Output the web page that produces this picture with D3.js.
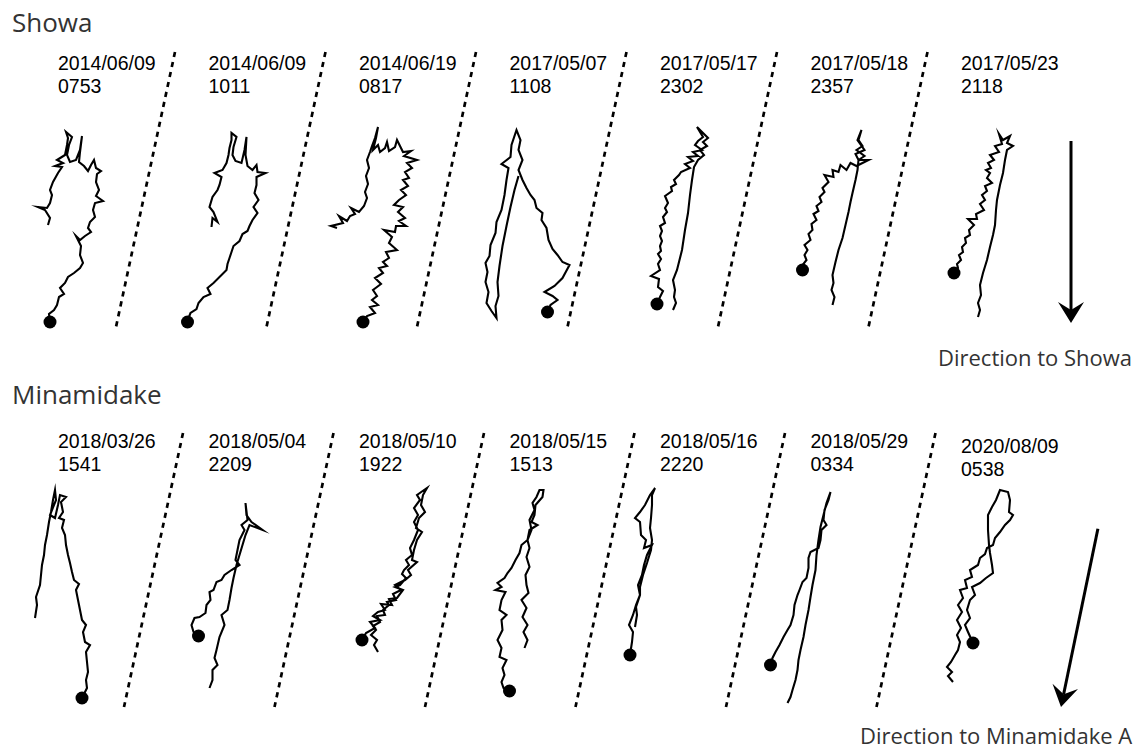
<!DOCTYPE html>
<html>
<head>
<meta charset="utf-8">
<script src="https://cdn.jsdelivr.net/npm/d3@7"></script>
<style>
  html, body { margin: 0; padding: 0; background: #fff; }
  svg { display: block; }
</style>
</head>
<body>
<script>
// ---- Event labels ----
const showaDates = ["2014/06/09", "2014/06/09", "2014/06/19", "2017/05/07", "2017/05/17", "2017/05/18", "2017/05/23"];
const showaTimes = ["0753", "1011", "0817", "1108", "2302", "2357", "2118"];
const minamiDates = ["2018/03/26", "2018/05/04", "2018/05/10", "2018/05/15", "2018/05/16", "2018/05/29", "2020/08/09"];
const minamiTimes = ["1541", "2209", "1922", "1513", "2220", "0334", "0538"];

// Which end of each particle-motion trace carries the filled circle
const showaMarker = ["end", "end", "end", "start", "end", "end", "end"];
const minamiMarker = ["end", "end", "start", "end", "end", "end", "end"];

// Azimuth (degrees clockwise from north) of each source direction
const showaAzimuth = 180;
const minamiAzimuth = 191.7;

// ---- Particle motion traces (horizontal, vertical displacement in plot units) ----
const showa1 = [[-10,225],[-8,218],[-13,210],[-20,207],[-11,208],[-8,203],[-6,195],[-8,190],[-5,182],[0,173],[4,167],[-3,166],[5,163],[-1,160],[7,155],[9,145],[10,138],[8,132],[14,137],[11,145],[9,155],[12,162],[18,160],[22,150],[24,136],[22,152],[21,162],[26,166],[30,171],[33,165],[36,160],[38,168],[43,171],[39,174],[38,182],[41,190],[38,196],[45,201],[37,203],[35,210],[37,217],[32,222],[30,228],[33,232],[27,236],[22,240],[18,236],[23,246],[22,255],[25,263],[22,268],[16,273],[10,277],[7,283],[2,288],[6,294],[1,297],[-1,305],[-4,310],[-9,314],[-8,322]];
const showa2 = [[3,227],[4,218],[9,222],[5,212],[1,207],[4,197],[9,190],[11,185],[13,177],[6,173],[14,170],[18,163],[20,155],[21,148],[23,140],[23,133],[28,137],[25,147],[24,155],[27,161],[33,163],[36,150],[38,137],[37,155],[39,166],[44,170],[48,165],[49,172],[57,173],[48,177],[48,185],[46,193],[50,200],[45,207],[49,213],[44,220],[41,226],[39,231],[34,234],[31,241],[25,246],[23,252],[21,258],[19,264],[18,270],[12,276],[5,283],[-1,288],[2,294],[-5,297],[-10,303],[-12,309],[-18,313],[-20,318],[-21,322]];
const showa3 = [[-22,228],[-28,226],[-16,223],[-20,216],[-12,221],[-9,216],[-4,214],[-8,208],[0,212],[5,206],[8,198],[6,192],[9,184],[7,176],[10,168],[8,160],[11,152],[13,146],[16,138],[19,127],[17,138],[14,150],[19,145],[21,152],[26,148],[28,142],[30,151],[36,147],[38,140],[41,146],[44,152],[52,151],[45,156],[58,160],[48,163],[53,168],[46,172],[50,178],[44,180],[49,186],[42,190],[47,195],[40,200],[35,205],[44,207],[39,212],[46,218],[40,221],[47,226],[37,226],[36,232],[25,230],[33,237],[30,243],[38,250],[27,252],[30,258],[24,262],[28,266],[20,268],[24,273],[16,278],[22,284],[14,290],[18,296],[13,300],[19,305],[11,307],[16,313],[8,316],[4,322]];
const showa4 = [[38,312],[41,305],[48,300],[43,296],[35,292],[45,286],[53,278],[60,265],[53,262],[48,255],[43,249],[39,240],[37,228],[32,220],[33,213],[27,208],[25,200],[21,195],[17,188],[13,180],[9,170],[13,160],[9,150],[11,140],[7,130],[2,145],[1,157],[-8,164],[-1,168],[-3,180],[-5,195],[-8,210],[-13,222],[-14,233],[-19,245],[-20,256],[-24,263],[-22,272],[-24,282],[-21,292],[-23,303],[-18,311],[-13,318],[-14,306],[-11,296],[-12,282],[-10,266],[-7,246],[-3,226],[1,207],[5,190],[9,176]];
const showa5 = [[13,310],[16,303],[14,297],[15,290],[13,280],[17,270],[22,250],[25,230],[28,213],[30,195],[32,180],[34,167],[38,160],[44,155],[40,150],[47,146],[43,142],[48,138],[37,127],[43,137],[38,141],[35,145],[42,150],[33,152],[38,156],[28,157],[33,161],[25,164],[30,168],[21,172],[19,175],[14,180],[16,184],[11,187],[12,191],[5,196],[8,203],[5,208],[7,212],[3,217],[5,223],[0,226],[2,231],[0,236],[2,241],[0,246],[1,251],[-2,254],[1,259],[-2,264],[0,270],[-9,276],[-1,279],[-2,287],[3,291],[0,297],[-3,304]];
const showa6 = [[22,305],[24,297],[21,290],[23,283],[22,275],[25,262],[28,250],[32,238],[35,225],[38,212],[40,202],[42,193],[45,180],[47,170],[48,160],[54,156],[46,150],[52,146],[48,140],[51,130],[47,140],[54,150],[45,154],[48,160],[58,160],[46,166],[40,163],[36,170],[30,165],[28,172],[22,170],[23,177],[14,175],[18,182],[12,188],[14,192],[9,197],[11,202],[6,206],[8,211],[3,214],[6,220],[1,224],[2,230],[-2,234],[0,240],[-6,245],[-3,250],[-6,255],[-4,260],[-8,265],[-8,270]];
const showa7 = [[17,317],[19,310],[17,303],[20,295],[19,285],[22,273],[26,260],[29,247],[32,235],[34,225],[35,210],[36,200],[39,185],[42,173],[44,160],[46,150],[52,146],[46,143],[49,136],[42,140],[38,134],[41,144],[34,146],[38,152],[29,155],[33,160],[27,163],[30,168],[25,170],[29,173],[26,178],[31,183],[24,186],[26,191],[21,195],[24,200],[19,204],[23,210],[15,214],[16,219],[7,219],[13,225],[8,230],[9,235],[4,238],[5,243],[1,247],[2,252],[-2,255],[0,260],[-4,264],[-3,268],[-7,273]];

const minami1 = [[-23,238],[-21,225],[-22,217],[-18,205],[-17,195],[-16,185],[-14,175],[-13,165],[-11,155],[-9,142],[-7,132],[-5,120],[-3,110],[-2,120],[-8,135],[-3,138],[0,125],[2,115],[8,117],[3,122],[5,132],[1,138],[6,140],[4,148],[7,155],[8,165],[10,175],[12,183],[14,192],[16,200],[21,204],[18,210],[20,220],[22,230],[24,240],[28,245],[25,252],[27,262],[32,265],[28,272],[29,282],[30,292],[28,300],[29,308],[26,314],[24,318]];
const minami2 = [[1,308],[4,300],[4,290],[9,285],[6,278],[8,270],[11,257],[16,245],[13,235],[19,230],[21,220],[23,208],[25,198],[28,185],[31,175],[34,165],[37,155],[41,145],[54,150],[43,142],[38,135],[37,123],[39,140],[33,145],[36,150],[31,160],[29,170],[27,180],[31,185],[23,190],[16,195],[13,200],[8,202],[5,210],[1,212],[2,220],[-2,225],[-3,233],[-9,237],[-14,238],[-17,245],[-15,252],[-10,256]];
const minami3 = [[3,260],[7,253],[16,248],[11,242],[21,240],[14,236],[19,232],[26,230],[22,224],[33,225],[30,219],[38,218],[44,210],[36,207],[41,205],[47,198],[43,194],[45,190],[50,185],[47,180],[53,175],[51,168],[55,160],[59,150],[55,142],[59,135],[55,128],[61,120],[58,115],[68,108],[64,115],[62,125],[66,132],[60,138],[57,148],[63,152],[58,160],[55,170],[53,180],[58,182],[49,190],[52,195],[46,200],[36,205],[42,210],[34,214],[37,220],[28,222],[30,225],[24,230],[26,235],[18,236],[21,242],[14,246],[17,250],[12,255],[18,260],[15,265],[19,272]];
const minami4 = [[15,268],[18,260],[14,252],[18,245],[13,237],[17,228],[12,220],[19,213],[17,205],[16,195],[20,187],[17,177],[20,168],[18,160],[22,150],[20,140],[25,130],[23,123],[27,117],[30,110],[34,110],[33,117],[26,125],[25,135],[22,142],[28,145],[20,150],[18,160],[12,165],[10,173],[6,180],[2,188],[-2,193],[-5,198],[-12,203],[-8,207],[-14,210],[-4,212],[-8,220],[-10,230],[-3,235],[-8,240],[-7,250],[-12,260],[-8,268],[-10,277],[-3,280],[-7,288],[-5,295],[-8,302],[-6,308],[0,311]];
const minami5 = [[-25,247],[-23,235],[-24,227],[-20,215],[-20,207],[-17,195],[-13,183],[-9,170],[-8,160],[-10,148],[-9,138],[-8,125],[-8,115],[-5,108],[-10,115],[-15,125],[-20,132],[-25,138],[-20,142],[-19,155],[-14,160],[-16,168],[-8,165],[-13,175],[-16,185],[-18,195],[-22,205],[-20,215],[-24,225],[-27,235],[-31,245],[-27,252],[-28,262],[-30,275]];
const minami6 = [[-23,323],[-20,317],[-18,310],[-15,300],[-13,290],[-12,280],[-10,270],[-7,257],[-5,245],[-2,230],[0,217],[2,205],[5,190],[6,175],[8,160],[10,147],[13,135],[16,123],[20,112],[18,120],[14,130],[13,140],[16,145],[11,150],[10,160],[8,168],[0,172],[-2,178],[-2,188],[-4,198],[-8,202],[-11,210],[-13,215],[-16,225],[-17,235],[-20,245],[-23,250],[-27,257],[-31,265],[-35,272],[-38,278],[-40,285]];
const minami7 = [[-8,302],[-13,296],[-9,292],[-14,287],[-10,282],[-6,275],[-3,270],[-1,262],[-4,255],[0,248],[-4,240],[1,232],[-3,225],[2,218],[-1,210],[6,208],[4,200],[11,197],[9,190],[17,185],[19,178],[24,174],[26,168],[32,165],[34,158],[39,152],[44,145],[49,140],[52,135],[48,132],[49,120],[47,112],[39,110],[35,120],[31,127],[27,135],[27,150],[28,165],[29,173],[31,185],[32,193],[25,198],[19,203],[11,207],[14,215],[9,220],[6,230],[9,238],[4,245],[7,252],[12,263]];

const showaTracks = [showa1, showa2, showa3, showa4, showa5, showa6, showa7];
const minamiTracks = [minami1, minami2, minami3, minami4, minami5, minami6, minami7];

// ---- Layout ----
const W = 1148, H = 752;
const rows = [
  { title: "Showa", dates: showaDates, times: showaTimes, tracks: showaTracks, marker: showaMarker,
    azimuth: showaAzimuth, dirLabel: "Direction to Showa",
    titleY: 32, labelY: [70, 93], sepTopX: 117, sepBotX: 58, sepY: [52, 327],
    arrowTip: [1071, 323], dirX: 938, dirY: 366 },
  { title: "Minamidake", dates: minamiDates, times: minamiTimes, tracks: minamiTracks, marker: minamiMarker,
    azimuth: minamiAzimuth, dirLabel: "Direction to Minamidake A",
    titleY: 404, labelY: [68, 91], sepTopX: 125, sepBotX: 66, sepY: [53, 327],
    arrowTip: [1061, 707], dirX: 860, dirY: 744 }
];

const panelX = d3.scaleLinear().domain([0, 6]).range([58, 961]);
const rowY = d3.scaleLinear().domain([0, 1]).range([0, 380]);
const motion = d3.scaleLinear().domain([0, 100]).range([0, 100]);

const svg = d3.select("body").append("svg")
  .attr("width", W).attr("height", H)
  .attr("viewBox", `0 0 ${W} ${H}`);

const line = d3.line()
  .x(d => motion(d[0]))
  .y(d => motion(d[1]))
  .curve(d3.curveLinear);

rows.forEach((row, r) => {
  // Source group title
  svg.append("text")
    .attr("x", 12).attr("y", row.titleY)
    .attr("font-family", "'Open Sans', 'Noto Sans', sans-serif")
    .attr("font-size", 26)
    .attr("fill", "#333")
    .text(row.title);

  const g = svg.append("g").attr("transform", `translate(0,${rowY(r)})`);

  // Dashed separators between events
  g.selectAll("line.sep")
    .data(d3.range(row.tracks.length - 1))
    .join("line")
    .attr("class", "sep")
    .attr("x1", k => panelX(k) + row.sepTopX)
    .attr("y1", row.sepY[0])
    .attr("x2", k => panelX(k) + row.sepBotX)
    .attr("y2", row.sepY[1])
    .attr("stroke", "#000")
    .attr("stroke-width", 2.7)
    .attr("stroke-dasharray", "5.2,5");

  row.tracks.forEach((track, i) => {
    const p = g.append("g").attr("transform", `translate(${panelX(i)},0)`);
    const shift = (r === 1 && i === 6) ? 5 : 0;

    p.append("text")
      .attr("x", 0).attr("y", row.labelY[0] + shift)
      .attr("font-family", "'Liberation Sans', Arial, Helvetica, sans-serif")
      .attr("font-size", 19.5)
      .attr("fill", "#000")
      .text(row.dates[i]);
    p.append("text")
      .attr("x", 0).attr("y", row.labelY[1] + shift)
      .attr("font-family", "'Liberation Sans', Arial, Helvetica, sans-serif")
      .attr("font-size", 19.5)
      .attr("fill", "#000")
      .text(row.times[i]);

    p.append("path")
      .datum(track)
      .attr("d", line)
      .attr("fill", "none")
      .attr("stroke", "#000")
      .attr("stroke-width", 2.1)
      .attr("stroke-linejoin", "miter")
      .attr("stroke-miterlimit", 8);

    const end = row.marker[i] === "start" ? track[0] : track[track.length - 1];
    p.append("circle")
      .attr("cx", motion(end[0]))
      .attr("cy", motion(end[1]))
      .attr("r", 6.5)
      .attr("fill", "#000");
  });

  // Direction arrow toward the source
  const len = 182;
  const a = row.azimuth * Math.PI / 180;
  const ux = Math.sin(a), uy = -Math.cos(a);
  const tip = row.arrowTip;
  const tail = [tip[0] - ux * len, tip[1] - uy * len];
  const headLen = 21, notch = 13, halfW = 13;
  const px = -uy, py = ux;
  const base = [tip[0] - ux * headLen, tip[1] - uy * headLen];
  const nb = [tip[0] - ux * notch, tip[1] - uy * notch];

  svg.append("line")
    .attr("x1", tail[0]).attr("y1", tail[1])
    .attr("x2", nb[0]).attr("y2", nb[1])
    .attr("stroke", "#000").attr("stroke-width", 3);
  svg.append("path")
    .attr("d", d3.line()([
      tip,
      [base[0] + px * halfW, base[1] + py * halfW],
      nb,
      [base[0] - px * halfW, base[1] - py * halfW]
    ]) + "Z")
    .attr("fill", "#000");

  svg.append("text")
    .attr("x", row.dirX).attr("y", row.dirY)
    .attr("font-family", "'Open Sans', 'Noto Sans', sans-serif")
    .attr("font-size", 22)
    .attr("fill", "#333")
    .text(row.dirLabel);
});
</script>
</body>
</html>
